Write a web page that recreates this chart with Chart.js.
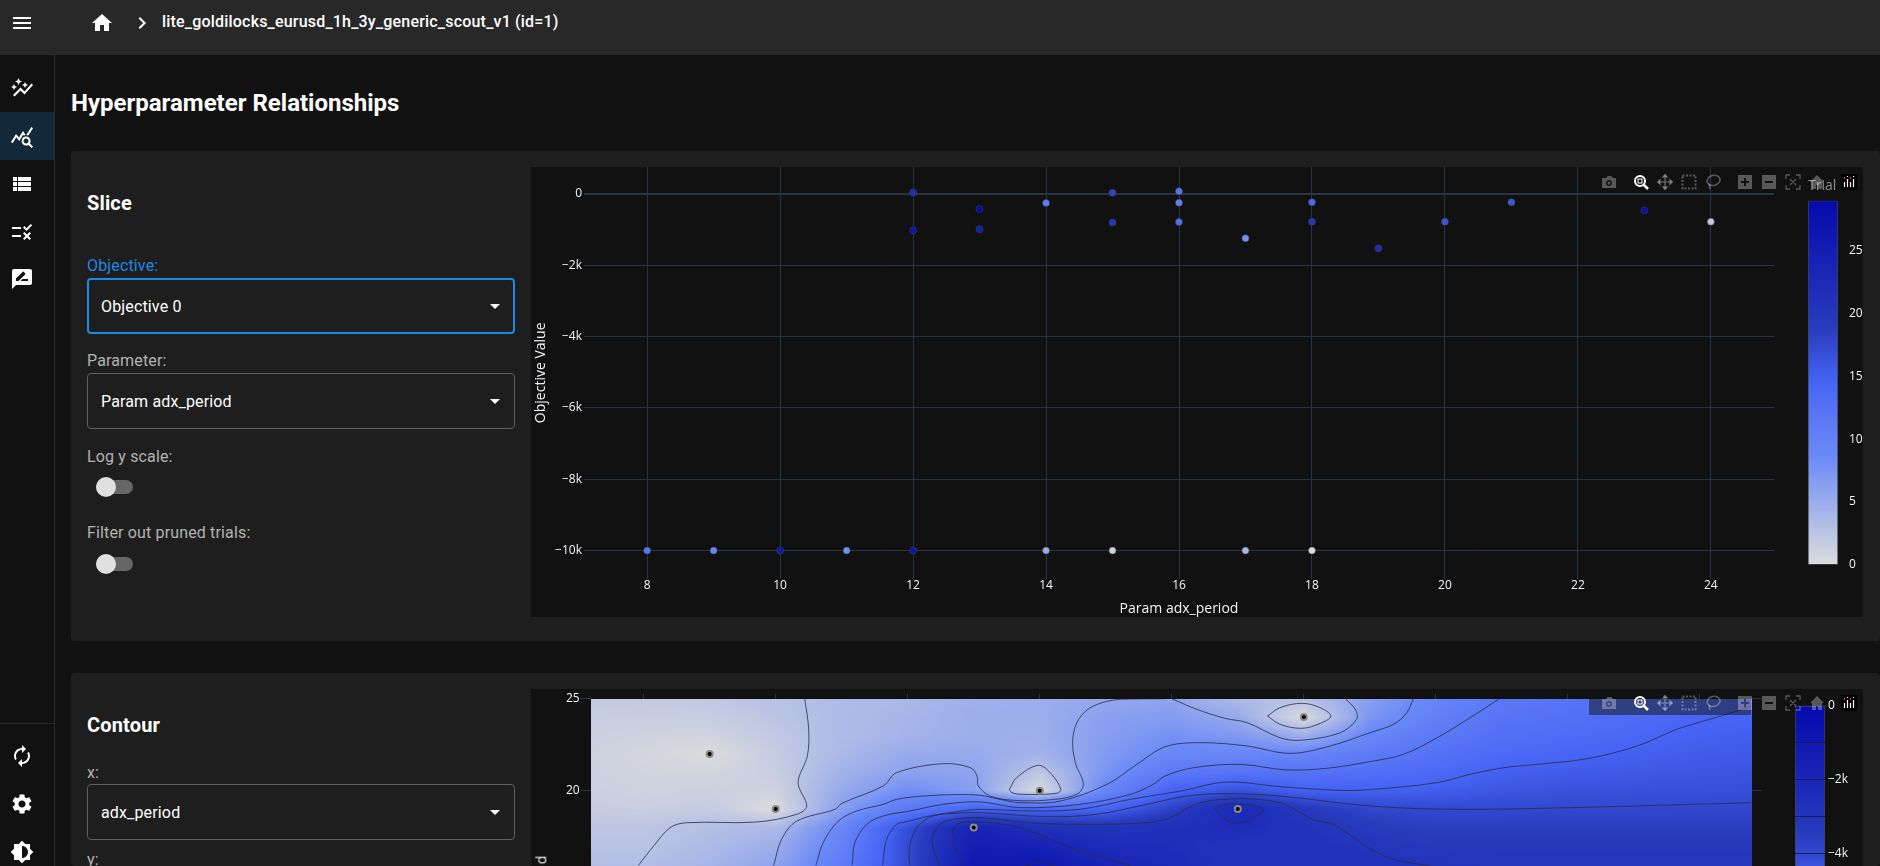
<!DOCTYPE html>
<html>
<head>
<meta charset="utf-8">
<title>Hyperparameter Relationships</title>
<script src="https://cdn.jsdelivr.net/npm/chart.js@4/dist/chart.umd.min.js"></script>
<style>
    html, body { margin: 0; height: 866px; overflow: hidden; background: #111; color: #fff; font-family: Roboto, sans-serif; }
    .abs, canvas { position: absolute; }
    .topbar { left: 0; top: 0; width: 1880px; height: 55px; background: #282828; }
    .sidebar { left: 0; top: 55px; width: 54px; height: 811px; border-right: 1px solid #2c2c2c; }
    .card { left: 71px; width: 1809px; background: #1e1e1e; border-radius: 4px; }
    .label { left: 87px; font-size: 16px; line-height: 20px; color: #b3b3b3; letter-spacing: .15px; }
    .select { left: 87px; width: 426px; height: 54px; border: 1px solid #5e5e5e; border-radius: 4px; }
    .select span { position: absolute; left: 13px; top: 18px; font-size: 16px; line-height: 20px; letter-spacing: .15px; }
    .select i { position: absolute; left: 402px; top: 25px; border: 5px solid transparent; border-top-color: #fff; border-bottom: 0; }
    .track { left: 96px; width: 37px; height: 14px; border-radius: 7px; background: #666; }
    .thumb { left: 96px; width: 20px; height: 20px; border-radius: 50%; background: #e0e0e0; }
    .nav { left: 10px; width: 24px; height: 24px; fill: #fff; }
    .head { left: 87px; font-size: 20px; line-height: 24px; font-weight: 700; letter-spacing: .15px; }
    .plotbg { left: 531px; width: 1332px; background: #111; }
    .plotfont { font-family: 'Open Sans', sans-serif; color: #f2f5fa; font-size: 14px; line-height: 16px; }
</style>
</head>
<body>
<div class="abs topbar"></div>
<div class="abs sidebar"></div>
<div class="abs" style="left:0;top:112px;width:54px;height:48px;background:#13293a"></div>
<div class="abs" style="left:0;top:723px;width:54px;height:1px;background:#2c2c2c"></div>

<svg class="abs nav" style="top:11px" viewBox="0 0 24 24"><path d="M3 18h18v-2H3v2zm0-5h18v-2H3v2zm0-7v2h18V6H3z"/></svg>
<svg class="abs nav" style="left:90px;top:11px" viewBox="0 0 24 24"><path d="M10 20v-6h4v6h5v-8h3L12 3 2 12h3v8z"/></svg>
<svg class="abs nav" style="left:130px;top:11px" viewBox="0 0 24 24"><path d="M10 6L8.59 7.41 13.17 12l-4.58 4.59L10 18l6-6z"/></svg>
<div class="abs" style="left:162px;top:12px;font-size:16px;line-height:20px;font-weight:500;letter-spacing:.2px">lite_goldilocks_eurusd_1h_3y_generic_scout_v1 (id=1)</div>

<svg class="abs nav" style="top:76px" viewBox="0 0 24 24"><path d="M14.06 9.94L12 9l2.06-.94L15 6l.94 2.06L18 9l-2.06.94L15 12l-.94-2.06zM4 14l.94-2.06L7 11l-2.06-.94L4 8l-.94 2.06L1 11l2.06.94L4 14zm4.5-5l1.09-2.41L12 5.5 9.59 4.41 8.5 2 7.41 4.41 5 5.5l2.41 1.09L8.5 9zm-4 11.5l6-6.01 4 4L23 8.93l-1.41-1.41-7.09 7.97-4-4L3 19l1.5 1.5z"/></svg>
<svg class="abs nav" style="top:125px" viewBox="0 0 24 24"><path d="M19.88 18.47c.44-.7.7-1.51.7-2.39 0-2.49-2.01-4.5-4.5-4.5s-4.5 2.01-4.5 4.5 2.01 4.5 4.49 4.5c.88 0 1.7-.26 2.39-.7L21.58 23 23 21.58l-3.12-3.11zm-3.8.11c-1.38 0-2.5-1.12-2.5-2.5s1.12-2.5 2.5-2.5 2.5 1.12 2.5 2.5-1.12 2.5-2.5 2.5zm-.36-8.5c-.74.02-1.45.18-2.1.45l-.55-.83-3.8 6.18-3.01-3.52-3.63 5.81L1 17l5-8 3 3.5L13 6l2.72 4.08zm2.59.5c-.64-.28-1.33-.45-2.05-.49L21.38 2 23 3.18l-4.69 7.4z"/></svg>
<svg class="abs nav" style="top:172px" viewBox="0 0 24 24"><path d="M3 5h4v4H3zM3 10h4v4H3zM3 15h4v4H3zM8 5h13v4H8zM8 10h13v4H8zM8 15h13v4H8z"/></svg>
<svg class="abs nav" style="top:220px" viewBox="0 0 24 24"><path d="M16.54 11L13 7.46l1.41-1.41 2.12 2.12 4.24-4.24 1.41 1.41L16.54 11zM11 7H2v2h9V7zm10 6.41L19.59 12 17 14.59 14.41 12 13 13.41 15.59 16 13 18.59 14.41 20 17 17.41 19.59 20 21 18.59 18.41 16 21 13.41zM11 15H2v2h9v-2z"/></svg>
<svg class="abs nav" style="top:267px" viewBox="0 0 24 24"><path d="M20 2H4c-1.1 0-2 .9-2 2v18l4-4h14c1.1 0 2-.9 2-2V4c0-1.1-.9-2-2-2zM6 14v-2.47l6.88-6.88c.2-.2.51-.2.71 0l1.77 1.77c.2.2.2.51 0 .71L8.47 14H6zm12 0h-7.5l2-2H18v2z"/></svg>
<svg class="abs nav" style="top:744px" viewBox="0 0 24 24"><path d="M12 6v3l4-4-4-4v3c-4.42 0-8 3.58-8 8 0 1.57.46 3.03 1.24 4.26L6.7 14.8c-.45-.83-.7-1.79-.7-2.8 0-3.31 2.69-6 6-6zm6.76 1.74L17.3 9.2c.44.84.7 1.79.7 2.8 0 3.31-2.69 6-6 6v-3l-4 4 4 4v-3c4.42 0 8-3.58 8-8 0-1.57-.46-3.03-1.24-4.26z"/></svg>
<svg class="abs nav" style="top:792px" viewBox="0 0 24 24"><path d="M19.14 12.94c.04-.3.06-.61.06-.94 0-.32-.02-.64-.07-.94l2.03-1.58c.18-.14.23-.41.12-.61l-1.92-3.32c-.12-.22-.37-.29-.59-.22l-2.39.96c-.5-.38-1.03-.7-1.62-.94l-.36-2.54c-.04-.24-.24-.41-.48-.41h-3.84c-.24 0-.43.17-.47.41l-.36 2.54c-.59.24-1.13.57-1.62.94l-2.39-.96c-.22-.08-.47 0-.59.22L2.74 8.87c-.12.21-.08.47.12.61l2.03 1.58c-.05.3-.09.63-.09.94s.02.64.07.94l-2.03 1.58c-.18.14-.23.41-.12.61l1.92 3.32c.12.22.37.29.59.22l2.39-.96c.5.38 1.03.7 1.62.94l.36 2.54c.05.24.24.41.48.41h3.84c.24 0 .44-.17.47-.41l.36-2.54c.59-.24 1.13-.56 1.62-.94l2.39.96c.22.08.47 0 .59-.22l1.92-3.32c.12-.22.07-.47-.12-.61l-2.01-1.58zM12 15.6c-1.98 0-3.6-1.62-3.6-3.6s1.62-3.6 3.6-3.6 3.6 1.62 3.6 3.6-1.62 3.6-3.6 3.6z"/></svg>
<svg class="abs nav" style="top:840px" viewBox="0 0 24 24"><path d="M20 15.31L23.31 12 20 8.69V4h-4.69L12 .69 8.69 4H4v4.69L.69 12 4 15.31V20h4.69L12 23.31 15.31 20H20v-4.69zM12 18V6c3.31 0 6 2.69 6 6s-2.69 6-6 6z"/></svg>

<div class="abs" style="left:71px;top:89px;font-size:24px;line-height:28px;font-weight:700">Hyperparameter Relationships</div>

<div class="abs card" style="top:151px;height:490px"></div>
<div class="abs card" style="top:673px;height:193px"></div>

<div class="abs head" style="top:191px">Slice</div>
<div class="abs label" style="top:256px;color:#1e88e5">Objective:</div>
<div class="abs select" style="top:278px;height:52px;width:424px;border:2px solid #1e88e5"><span style="left:12px;top:17px">Objective 0</span><i style="left:401px;top:24px"></i></div>
<div class="abs label" style="top:351px">Parameter:</div>
<div class="abs select" style="top:373px"><span>Param adx_period</span><i></i></div>
<div class="abs label" style="top:447px">Log y scale:</div>
<div class="abs track" style="top:480px"></div><div class="abs thumb" style="top:477px"></div>
<div class="abs label" style="top:523px">Filter out pruned trials:</div>
<div class="abs track" style="top:557px"></div><div class="abs thumb" style="top:554px"></div>

<div class="abs head" style="top:713px">Contour</div>
<div class="abs label" style="top:763px">x:</div>
<div class="abs select" style="top:784px"><span>adx_period</span><i></i></div>
<div class="abs label" style="top:850px">y:</div>

<div class="abs plotbg" style="top:167px;height:450px"></div>
<div class="abs plotbg" style="top:689px;height:177px"></div>

<canvas id="sliceChart" width="1332" height="450" style="left:531px;top:167px"></canvas>
<canvas id="sliceBar" width="54" height="375" style="left:1808px;top:195px"></canvas>
<div class="abs plotfont" style="left:1808px;top:177px;color:#8d8f93">Trial</div>

<canvas id="contourChart" width="1332" height="450" style="left:531px;top:689px"></canvas>
<canvas id="contourBar" width="67" height="400" style="left:1795px;top:695px"></canvas>
<div class="abs plotfont" style="left:537px;top:852px;transform:rotate(-90deg)">d</div>

<div class="abs" style="left:1589px;top:699px;width:162px;height:16px;background:rgba(17,17,17,.5)"></div>
<div id="modebars"></div>

<script>
// ── SLICE DATA ──────────────────────────────────────────────────────────
const sliceParam     = [12, 12, 13, 13, 14, 15, 15, 16, 16, 16, 17, 18, 18, 19, 20, 21, 23, 24, 8, 9, 10, 11, 12, 14, 15, 17, 18];
const sliceObjective = [40, -1020, -420, -990, -250, 37, -800, 75, -243, -785, -1243, -234, -776, -1523, -776, -234, -458, -776, -10000, -10000, -10000, -10000, -10000, -10000, -10000, -10000, -10000];
const sliceTrial     = [22, 27, 29, 25, 11, 18, 20, 12, 10, 13, 8, 14, 20, 22, 16, 16, 28, 2, 12, 9, 26, 8, 27, 5, 1, 4, 0];
const sliceXTicks    = [8, 10, 12, 14, 16, 18, 20, 22, 24];
const sliceYTicks    = [0, -2000, -4000, -6000, -8000, -10000];
const trialTicks     = [0, 5, 10, 15, 20, 25];

// ── CONTOUR DATA ────────────────────────────────────────────────────────
const contourXTicks  = [8, 10, 12, 14, 16, 18, 20, 22, 24];
const contourYTicks  = [5, 10, 15, 20, 25];
const levelTicks     = [0, -1000, -2000, -3000, -4000, -5000, -6000, -7000, -8000, -9000, -10000];
const trialParamX    = [9, 10, 13, 14, 17, 18];
const trialParamY    = [22, 19, 18, 20, 19, 24];

// objective estimated from the shading, one column per heatX, rows follow heatY
const heatX = [7, 8, 9, 10, 11, 12, 13, 14, 15, 16, 17, 18, 19, 20, 21, 22, 23, 24, 25];
const heatY = [25, 24, 23, 22, 21, 20, 19, 18, 17, 16, 15];
const heatZ = [
    [-9300, -9450, -9550, -9600, -9600, -9550, -9400, -9200, -9050, -8950, -8850],
    [-9300, -9500, -9650, -9750, -9700, -9650, -9500, -9200, -9100, -8950, -8700],
    [-9250, -9450, -9700, -10000, -9750, -9600, -9400, -8950, -8800, -8600, -8400],
    [-9050, -9150, -9300, -9400, -9500, -9650, -10000, -8800, -8350, -8000, -7700],
    [-8800, -8800, -8800, -8700, -8500, -8200, -7800, -6900, -6600, -6300, -6000],
    [-8700, -8600, -8550, -8200, -7900, -7200, -6100, -4200, -4100, -4100, -4000],
    [-8400, -8300, -8300, -8200, -7950, -7800, -5000, -1700, -1400, -1050, -900],
    [-8300, -8300, -8350, -8500, -9200, -10000, -5100, -2800, -1700, -1000, -900],
    [-8100, -7850, -7750, -7650, -7450, -6800, -5000, -2900, -2400, -1900, -1700],
    [-8000, -7700, -7300, -6900, -6100, -5000, -3700, -2700, -2500, -2300, -2100],
    [-8800, -8200, -7600, -6900, -5800, -4300, -2100, -2400, -2900, -2900, -2800],
    [-9000, -10000, -8400, -6800, -5800, -4900, -3300, -2900, -2800, -2700, -2600],
    [-7800, -7500, -6900, -6200, -5600, -4900, -3900, -3400, -3050, -2800, -2600],
    [-6800, -6500, -6100, -5700, -5300, -4800, -4000, -3600, -3300, -3000, -2800],
    [-6000, -5800, -5600, -5300, -4900, -4500, -4000, -3600, -3300, -3100, -3000],
    [-5800, -5650, -5400, -5100, -4700, -4350, -3950, -3600, -3300, -3100, -3000],
    [-5600, -5400, -5200, -4900, -4600, -4300, -3950, -3600, -3300, -3100, -3000],
    [-5400, -5100, -4900, -4700, -4500, -4250, -3900, -3600, -3300, -3100, -3000],
    [-5200, -5000, -4800, -4600, -4400, -4200, -3850, -3600, -3300, -3100, -3000]
];

// contour lines, [param x, param y] pairs
const lineM9Left = [[10.44, 25], [10.5, 23.34], [10.48, 21.89], [10.34, 20.44], [10.47, 19.17], [10.32, 18.72], [9.71, 18.3], [8.65, 18.26], [8.4, 17.99], [8.15, 16.99], [7.92, 15.94]];
const lineM9Mid  = [[13.54, 20.07], [13.65, 20.71], [13.98, 21.38], [14.18, 20.89], [14.32, 20.07], [14.26, 19.86], [13.75, 19.8], [13.58, 19.89], [13.54, 20.07]];
const lineM9Top  = [[17.45, 24.06], [17.64, 24.51], [17.97, 24.75], [18.25, 24.51], [18.41, 24.06], [18.25, 23.66], [17.97, 23.39], [17.64, 23.61], [17.45, 24.06]];
const lineM8Left = [[9.97, 15.94], [10.09, 17.36], [10.32, 18.35], [10.9, 18.99], [11, 19.31], [11.63, 20.26], [11.83, 20.98], [12.54, 21.47], [12.95, 21.25], [13.05, 20.8], [13.07, 20.26], [13.25, 19.71], [13.6, 19.48], [14.11, 19.49], [14.56, 19.8], [14.66, 20.35], [14.54, 21.52], [14.5, 22.79], [14.59, 23.88], [14.81, 24.6], [15.22, 24.97], [15.9, 25]];
const lineM8Top  = [[16, 25], [16.38, 24.42], [16.81, 23.93], [17.14, 23.7], [17.64, 22.88], [17.95, 22.74], [18.55, 23.15], [18.8, 23.88], [18.78, 24.42], [18.63, 25]];
const lineM7 = [[10.61, 15.94], [10.72, 17.18], [10.95, 18.35], [11.23, 18.9], [11.63, 19.26], [11.83, 19.53], [12.24, 19.71], [12.74, 19.79], [13.1, 19.75], [13.4, 19.53], [13.7, 19.35], [14.31, 19.44], [15.02, 20.35], [15.47, 21.43], [15.9, 22.39], [16.43, 22.61], [17.14, 22.43], [17.79, 22.03], [18.4, 22.43], [19, 23.15], [19.36, 23.61], [19.56, 24.24], [19.66, 25]];
const lineM6 = [[11.16, 15.94], [11.2, 17.18], [11.38, 18.17], [11.63, 18.63], [12.04, 18.9], [12.54, 19.26], [13.1, 19.39], [13.7, 19.08], [14.61, 19.26], [15.37, 19.8], [15.72, 20.35], [15.9, 20.8], [16.33, 21.25], [17.04, 21.43], [17.74, 21.13], [18.35, 21.22], [19, 21.58], [19.51, 21.98], [20.02, 22.88], [20.52, 23.97], [20.95, 24.97]];
const lineM5 = [[11.62, 15.94], [11.68, 17.36], [11.83, 18.17], [11.96, 18.3], [12.34, 18.63], [12.84, 18.9], [13.1, 18.99], [13.85, 18.9], [14.61, 18.99], [15.37, 19.53], [16.13, 19.98], [16.83, 20.47], [17.64, 20.22], [18.55, 20.02], [19, 20.06], [20.02, 20.44], [20.52, 20.89], [21.03, 21.25], [21.53, 21.43], [22.29, 21.74], [23.05, 22.43], [23.65, 23.34], [24.06, 23.79], [24.56, 24.33], [24.78, 24.6]];
const lineM4 = [[12.03, 15.94], [12.03, 17], [12.16, 18.08], [12.39, 18.63], [12.74, 18.77], [13.1, 18.81], [14.11, 18.59], [14.86, 18.72], [15.62, 19.26], [16.23, 19.71], [16.83, 19.84], [17.64, 19.71], [19, 19.17], [20.27, 18.99], [22.04, 19.08], [24.78, 19.35]];
const lineM3 = [[12.47, 15.94], [12.37, 17.36], [12.49, 18.17], [12.69, 18.44], [13.1, 18.53], [13.85, 18.26], [14.61, 18.17], [15.62, 18.26], [15.98, 18.53], [16.13, 18.84], [16.43, 19.35], [17.04, 19.57], [17.64, 19.35], [17.95, 18.81], [18.15, 18.41], [18.45, 18.17], [18.75, 17.45], [19, 16.85], [19.36, 16.27], [19.92, 15.91]];
const lineM2Left = [[12.82, 15.94], [12.69, 17.54], [12.74, 18.17], [13.1, 18.3], [13.6, 18.08], [13.85, 17.81], [14.61, 16.72], [15.37, 15.94]];
const lineM2Mid  = [[16.65, 19.02], [16.78, 19.24], [16.99, 19.28], [17.38, 19.02], [17.24, 18.53], [16.99, 18.23], [16.83, 18.41], [16.65, 19.02]];
const lineM1     = [[13.75, 15.91], [14.01, 16.12], [14.23, 15.91]];
const contourLines = [lineM9Left, lineM9Mid, lineM9Top, lineM8Left, lineM8Top, lineM7, lineM6, lineM5, lineM4, lineM3, lineM2Left, lineM2Mid, lineM1];

// Chart Global Defaults
Chart.defaults.font.family = "'Open Sans', sans-serif";
Chart.defaults.font.size = 12;
Chart.defaults.color = '#f2f5fa';
Chart.defaults.animation = false;
Chart.defaults.responsive = false;
Chart.defaults.layout.autoPadding = false;
Chart.defaults.plugins.legend.display = false;
Chart.defaults.plugins.tooltip.enabled = false;

const GRID = '#283442';
const BLUES = [
    [0, [220, 220, 220]], [0.3, [106, 137, 247]], [0.4, [90, 120, 245]],
    [0.5, [70, 100, 245]], [0.65, [40, 60, 190]], [1, [5, 10, 172]]
];

function blues(t) {
    t = Math.max(0, Math.min(1, t));
    let i = 0;
    while (i < BLUES.length - 2 && t > BLUES[i + 1][0]) i++;
    const [t0, c0] = BLUES[i], [t1, c1] = BLUES[i + 1];
    const f = (t - t0) / (t1 - t0);
    return c0.map((c, k) => c + (c1[k] - c) * f);
}
const css = c => `rgb(${c.map(Math.round).join(',')})`;
const kLabel = v => v === 0 ? '0' : '\u2212' + Math.abs(v) / 1000 + 'k';
const useTicks = list => scale => { scale.ticks = list.map(value => ({ value })); };
const fixWidth = w => s => { s.width = w; s.paddingTop = 0; s.paddingBottom = 0; };
const fixHeight = h => s => { s.height = h; s.paddingLeft = 0; s.paddingRight = 0; };

// ── SLICE CHART ─────────────────────────────────────────────────────────
function initSliceChart() {
    new Chart(document.getElementById('sliceChart'), {
        type: 'scatter',
        data: {
            datasets: [{
                data: sliceParam.map((x, i) => ({ x, y: sliceObjective[i] })),
                pointRadius: 3.5,
                pointBorderWidth: 0.5,
                pointBorderColor: '#444',
                pointBackgroundColor: sliceTrial.map(t => css(blues(t / 29)))
            }]
        },
        options: {
            layout: { padding: { right: 89 } },
            scales: {
                x: {
                    min: 7.05, max: 24.95,
                    afterBuildTicks: useTicks(sliceXTicks),
                    afterFit: fixHeight(38.4),
                    grid: { color: GRID, drawTicks: false },
                    border: { display: false },
                    ticks: { padding: 0, maxRotation: 0, autoSkip: false },
                    title: { display: true, text: 'Param adx_period', font: { size: 14 }, padding: 0 }
                },
                y: {
                    min: -10785, max: 757,
                    afterBuildTicks: useTicks(sliceYTicks),
                    afterFit: fixWidth(53),
                    grid: { color: GRID, drawTicks: false, lineWidth: c => c.tick && c.tick.value === 0 ? 2 : 1 },
                    border: { display: false },
                    ticks: { padding: 2, callback: kLabel, autoSkip: false },
                    title: { display: true, text: 'Objective Value', font: { size: 14 }, padding: { top: 2, bottom: 0 } }
                }
            }
        }
    });
}

// ── COLORBARS ───────────────────────────────────────────────────────────
function initColorbar(id, low, high, ticks, padding, axisWidth, tickText, grid) {
    new Chart(document.getElementById(id), {
        type: 'bar',
        data: {
            labels: [''],
            datasets: [{
                data: [[low, high]],
                borderWidth: 1,
                borderColor: '#444',
                borderSkipped: false,
                barPercentage: 1,
                categoryPercentage: 1,
                backgroundColor: c => {
                    if (!c.chart.chartArea) return '#000';
                    const y = c.chart.scales.y;
                    const g = c.chart.ctx.createLinearGradient(0, y.getPixelForValue(low), 0, y.getPixelForValue(high));
                    BLUES.forEach(([t, col]) => g.addColorStop(t, css(col)));
                    return g;
                }
            }]
        },
        options: {
            layout: { padding },
            scales: {
                x: { display: false },
                y: {
                    position: 'right',
                    min: low, max: high,
                    afterBuildTicks: useTicks(ticks),
                    afterFit: fixWidth(axisWidth),
                    grid: grid,
                    border: { display: false },
                    ticks: { padding: 3, callback: tickText, autoSkip: false }
                }
            }
        }
    });
}

// ── CONTOUR CHART ───────────────────────────────────────────────────────
const heatmapPlugin = {
    id: 'heatmap',
    beforeDatasetsDraw(chart) {
        const { ctx, chartArea: a, scales: { x, y } } = chart;
        const w = Math.round(a.right - a.left);
        const h = Math.round(y.getPixelForValue(heatY[heatY.length - 1]) - a.top);
        const off = document.createElement('canvas');
        off.width = w;
        off.height = h;
        const octx = off.getContext('2d');
        const img = octx.createImageData(w, h);
        for (let py = 0; py < h; py++) {
            const v = y.getValueForPixel(a.top + py + 0.5);
            const fy = Math.max(0, Math.min(heatY.length - 1.001, heatY[0] - v));
            const j = Math.floor(fy), dy = fy - j;
            for (let px = 0; px < w; px++) {
                const u = x.getValueForPixel(a.left + px + 0.5);
                const fx = Math.max(0, Math.min(heatX.length - 1.001, u - heatX[0]));
                const i = Math.floor(fx), dx = fx - i;
                const z = (heatZ[i][j] * (1 - dy) + heatZ[i][j + 1] * dy) * (1 - dx)
                        + (heatZ[i + 1][j] * (1 - dy) + heatZ[i + 1][j + 1] * dy) * dx;
                const c = blues((z + 10000) / 10000);
                const o = (py * w + px) * 4;
                img.data[o] = c[0];
                img.data[o + 1] = c[1];
                img.data[o + 2] = c[2];
                img.data[o + 3] = 255;
            }
        }
        octx.putImageData(img, 0, 0);
        ctx.drawImage(off, a.left, a.top);
    }
};

function initContourChart() {
    const lineSets = contourLines.map(line => ({
        type: 'scatter',
        data: line.map(([x, y]) => ({ x, y })),
        showLine: true,
        tension: 0.35,
        pointRadius: 0,
        borderWidth: 1,
        borderColor: 'rgba(40, 44, 70, 0.8)'
    }));
    new Chart(document.getElementById('contourChart'), {
        type: 'scatter',
        plugins: [heatmapPlugin],
        data: {
            datasets: [{
                data: trialParamX.map((x, i) => ({ x, y: trialParamY[i] })),
                pointRadius: 3,
                pointBorderWidth: 2,
                pointBorderColor: '#8a8a8a',
                pointBackgroundColor: '#000'
            }, ...lineSets]
        },
        options: {
            layout: { padding: { bottom: 38 } },
            scales: {
                x: {
                    position: 'top',
                    min: 7.198, max: 24.78,
                    afterBuildTicks: useTicks(contourXTicks),
                    afterFit: fixHeight(9.7),
                    grid: { color: GRID, drawOnChartArea: false, tickLength: 5 },
                    border: { display: false },
                    ticks: { display: false }
                },
                y: {
                    min: 3.14, max: 25,
                    afterBuildTicks: useTicks(contourYTicks),
                    afterFit: fixWidth(59.7),
                    grid: { color: GRID, drawOnChartArea: false, tickLength: 10 },
                    border: { display: false },
                    ticks: { padding: 1, autoSkip: false }
                },
                yRight: {
                    position: 'right',
                    min: 3.14, max: 25,
                    afterBuildTicks: useTicks(contourYTicks),
                    afterFit: fixWidth(111.6),
                    grid: { color: GRID, drawOnChartArea: false, tickLength: 10 },
                    border: { display: false },
                    ticks: { display: false }
                }
            }
        }
    });
}

// ── MODEBARS ────────────────────────────────────────────────────────────
function drawModebars() {
    const dim = 'rgba(255,255,255,.3)';
    const icons = [
        [1609, `<path fill="${dim}" fill-rule="evenodd" d="M1 4h4l1.500-2h4L12 4h3v10H1zM8 6a3 3 0 1 0 .01 0zM8 7.500a1.500 1.500 0 1 1-.01 0z"/>`],
        [1641, `<circle cx="7" cy="7" r="5" fill="none" stroke="#fff" stroke-width="2"/><rect x="5" y="5" width="4" height="4" fill="none" stroke="#fff"/><path d="M10.500 10.500L15 15" stroke="#fff" stroke-width="2.500"/>`],
        [1664.7, `<path stroke="${dim}" stroke-width="1.600" fill="${dim}" d="M8 1v14M1 8h14M8 0.500L6 3h4zM8 15.500L6 13h4zM0.500 8L3 6v4zM15.500 8L13 6v4z"/>`],
        [1689, `<rect x="1.500" y="1.500" width="13" height="13" fill="none" stroke="${dim}" stroke-width="2" stroke-dasharray="2 1.500"/>`],
        [1712.7, `<ellipse cx="8.500" cy="6.500" rx="6.500" ry="5" fill="none" stroke="${dim}" stroke-width="1.600" transform="rotate(-15 8 6)"/><path d="M4 10L5 15" stroke="${dim}" stroke-width="1.600"/>`],
        [1745, `<path fill="${dim}" fill-rule="evenodd" d="M1 1h14v14H1zM7 4h2v3h3v2H9v3H7V9H4V7h3z"/>`],
        [1769, `<path fill="${dim}" fill-rule="evenodd" d="M1 1h14v14H1zM4 7h8v2H4z"/>`],
        [1792.7, `<path fill="none" stroke="${dim}" stroke-width="1.300" d="M1 5V1h4M11 1h4v4M15 11v4h-4M5 15H1v-4M5 5l6 6M11 5l-6 6"/>`],
        [1816.7, `<path fill="${dim}" d="M8 1L1 8h2v7h4v-4h2v4h4V8h2z"/>`]
    ];
    let html = '';
    [182, 703].forEach(cy => {
        icons.forEach(([cx, body]) => {
            html += `<svg class="abs" width="16" height="16" viewBox="0 0 16 16" style="left:${cx - 8}px;top:${cy - 8}px">${body}</svg>`;
        });
        html += `<svg class="abs" width="16" height="16" viewBox="0 0 16 16" style="left:1841px;top:${cy - 8}px"><rect width="16" height="16" fill="#000"/><path stroke="#fff" stroke-width="1.200" d="M3.500 8v5M6.500 5v8M9.500 8v5M12.500 5v8"/><path stroke="#e0356a" stroke-width="1.200" d="M3.500 3v2M9.500 3v2"/><path stroke="#fff" stroke-width="1.200" d="M6.500 2v1M12.500 2v1"/></svg>`;
    });
    document.getElementById('modebars').innerHTML = html;
}

document.addEventListener('DOMContentLoaded', () => {
    initSliceChart();
    initContourChart();
    initColorbar('sliceBar', 0, 29, trialTicks, { top: 5.7, bottom: 5.3, left: 0, right: 0 }, 24, v => String(v), { display: false });
    initColorbar('contourBar', -10000, 0, levelTicks, { top: 10.7, bottom: 19, left: 0, right: 0 }, 37,
        v => v % 2000 === 0 ? kLabel(v) : '',
        { color: 'rgba(20, 24, 80, 0.9)', drawTicks: false, z: 1 });
    drawModebars();
});
</script>
</body>
</html>
